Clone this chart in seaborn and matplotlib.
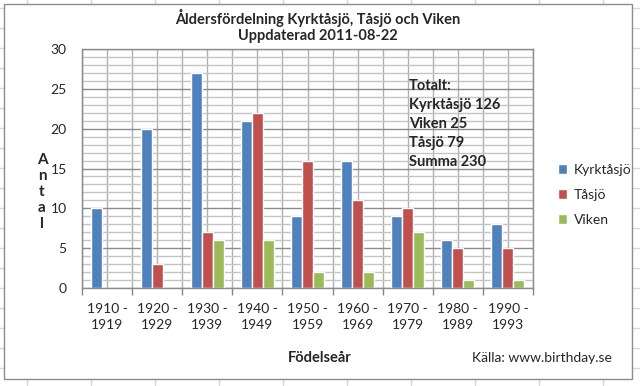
import numpy as np
import pandas as pd
import seaborn as sns
import matplotlib.pyplot as plt
from matplotlib.lines import Line2D
from matplotlib.patches import Rectangle

# Data
perioder = ['1910 -\n1919', '1920 -\n1929', '1930 -\n1939', '1940 -\n1949', '1950 -\n1959',
            '1960 -\n1969', '1970 -\n1979', '1980 -\n1989', '1990 -\n1993']
kyrktasjo = [10, 20, 27, 21, 9, 16, 9, 6, 8]
tasjo = [0, 3, 7, 22, 16, 11, 10, 5, 5]
viken = [0, 0, 6, 6, 2, 2, 7, 1, 1]
orter = ['Kyrktåsjö', 'Tåsjö', 'Viken']
farger = ['#4F81BD', '#C0504D', '#9BBB59']

df = pd.DataFrame({
    'period': perioder * 3,
    'antal': kyrktasjo + tasjo + viken,
    'ort': [o for o in orter for _ in perioder],
})

sns.set_style('white')
plt.rcParams['font.family'] = ['Lato', 'DejaVu Sans']

W, H = 640, 386
fig = plt.figure(figsize=(6.4, 3.86), dpi=100)

# Excel sheet cells behind the chart
for x in range(27, W, 64):
    fig.add_artist(Line2D([x / W, x / W], [0, 1], color='#D0D7E5', lw=1, zorder=-3))
for y in range(8, H, 20):
    fig.add_artist(Line2D([0, 1], [1 - y / H, 1 - y / H], color='#D0D7E5', lw=1, zorder=-3))
fig.add_artist(Rectangle((4 / W, 1 - 379 / H), 628 / W, 375 / H, transform=fig.transFigure,
                         facecolor='white', edgecolor='#8C8C8C', lw=1, zorder=-2))

ax = fig.add_axes([82 / W, 1 - 288 / H, 451 / W, 239 / H])
ax.patch.set_alpha(0)
sns.barplot(data=df, x='period', y='antal', hue='ort', palette=farger, width=0.66,
            saturation=1, ax=ax, legend=True)

ax.set_xlim(-0.5, 8.5)
ax.set_ylim(0, 30)
ax.set_yticks(range(0, 31, 5))
ax.set_yticks(range(0, 31), minor=True)
ax.set_xticks(np.arange(-0.5, 9, 1.0), minor=True)
ax.set_axisbelow(True)
ax.grid(axis='y', which='major', color='#8C8C8C', lw=1)
ax.grid(axis='y', which='minor', color='#C4C4C4', lw=1)
ax.grid(axis='x', which='both', color='#B0B0B0', lw=1)
ax.tick_params(axis='y', which='major', length=5, width=1, color='#868686', pad=6, labelsize=10)
ax.tick_params(axis='y', which='minor', length=0)
ax.tick_params(axis='x', which='major', length=0, pad=11, labelsize=10)
ax.tick_params(axis='x', which='minor', length=5, width=1, color='#868686', bottom=True)
for lab in ax.get_xticklabels():
    lab.set_linespacing(1.4)
for s in ax.spines.values():
    s.set_color('#8C8C8C')
    s.set_linewidth(1)
ax.spines['left'].set_color('#868686')
ax.set_xlabel('')
ax.set_ylabel('')

ax.legend(loc='upper left', bbox_to_anchor=(552 / W, 1 - 158 / H), bbox_transform=fig.transFigure,
          frameon=False, fontsize=10, handlelength=0.7, handleheight=0.7, handletextpad=0.5,
          labelspacing=0.95, borderaxespad=0)

fig.text(318 / W, 1 - 18 / H, 'Åldersfördelning Kyrktåsjö, Tåsjö och Viken',
         ha='center', va='center', fontsize=10.5, fontweight='bold')
fig.text(318 / W, 1 - 36 / H, 'Uppdaterad 2011-08-22',
         ha='center', va='center', fontsize=10.5, fontweight='bold')
fig.text(42 / W, 1 - 192 / H, 'A\nn\nt\na\nl', ha='center', va='center',
         fontsize=11, fontweight='bold', linespacing=1.2)
fig.text(320 / W, 1 - 358 / H, 'Födelseår', ha='center', va='center', fontsize=10.5, fontweight='bold')
fig.text(612 / W, 1 - 358 / H, 'Källa: www.birthday.se', ha='right', va='center', fontsize=10)

totalt = ('Totalt:\n'
          f'Kyrktåsjö {sum(kyrktasjo)}\n'
          f'Viken {sum(viken)}\n'
          f'Tåsjö {sum(tasjo)}\n'
          f'Summa {sum(kyrktasjo) + sum(tasjo) + sum(viken)}')
ax.text(409 / W, 1 - 79 / H, totalt, transform=fig.transFigure, ha='left', va='top',
        fontsize=10.5, fontweight='bold', linespacing=1.45)

fig.savefig('out.png', dpi=100)
